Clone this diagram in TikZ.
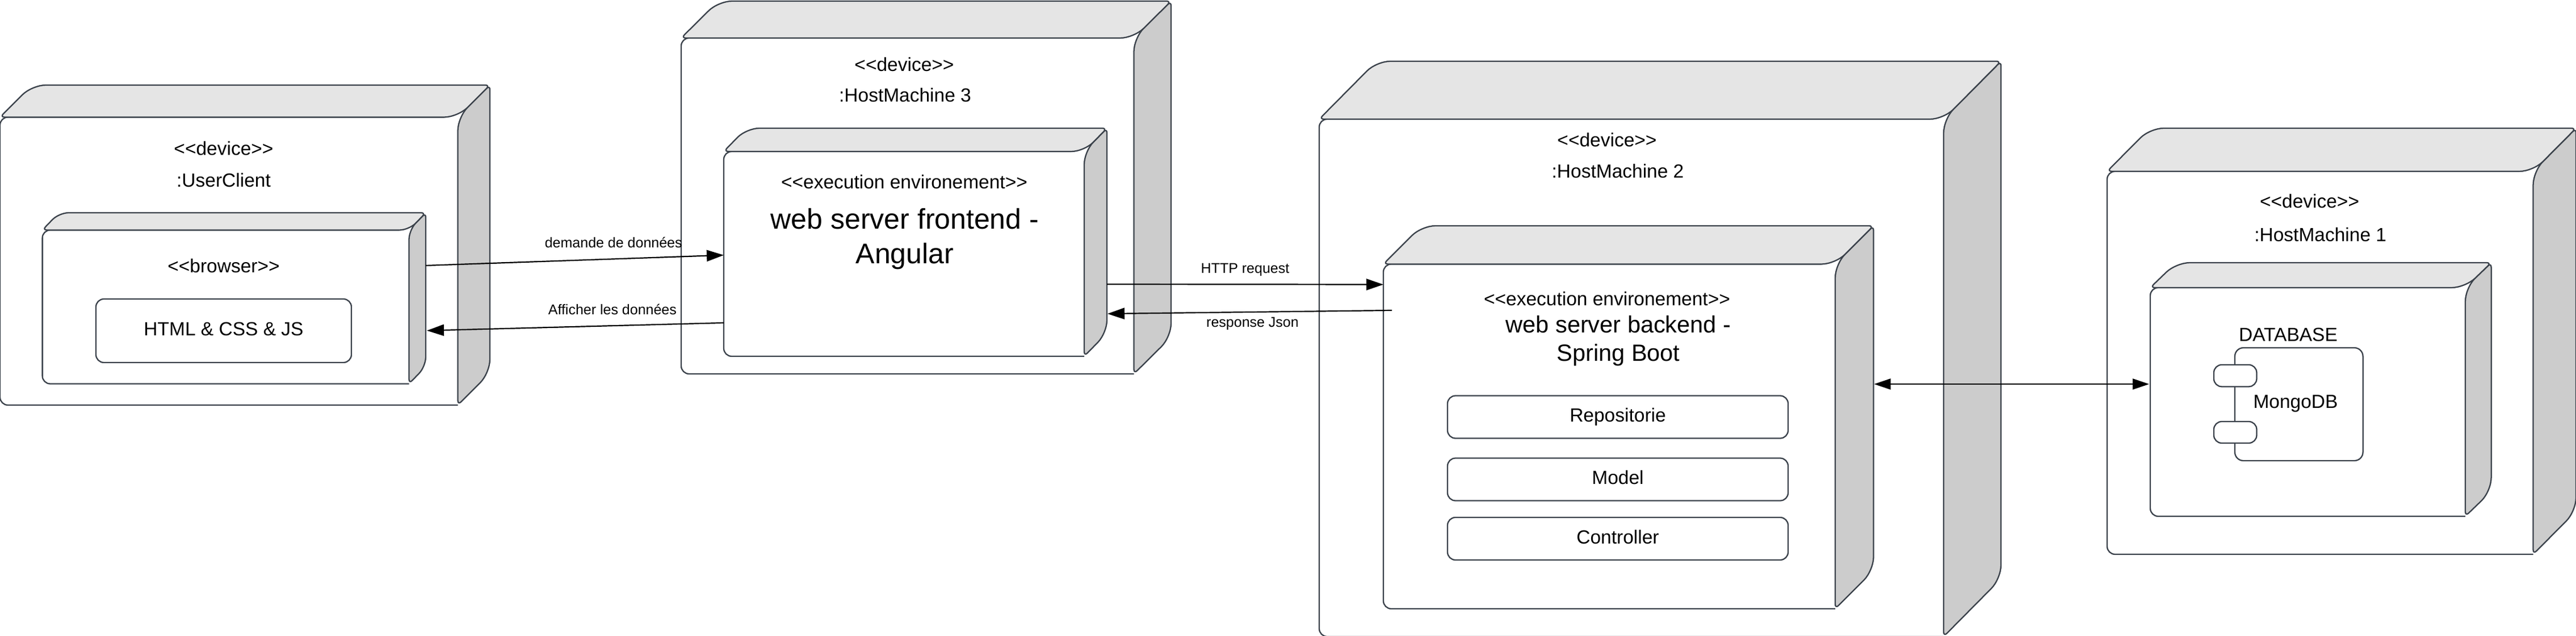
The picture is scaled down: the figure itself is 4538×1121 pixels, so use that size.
\documentclass[tikz,border=0pt]{standalone}
\usepackage{fontspec}
\setmainfont{Liberation Sans}[Ligatures=TeXOff]
\usetikzlibrary{arrows.meta}
\definecolor{edge}{HTML}{3A414A}
\definecolor{topface}{HTML}{E5E5E5}
\definecolor{sideface}{HTML}{CCCCCC}
\tikzset{
  outline/.style={draw=edge,line width=2.3pt,line join=round},
  frontface/.style={outline,fill=white},
  txt/.style={inner sep=0pt,outer sep=0pt,text=black,font=\fontsize{33.5}{40}\selectfont,text height=26pt,text depth=3pt},
  smalltxt/.style={inner sep=0pt,outer sep=0pt,text=black,font=\fontsize{25}{30}\selectfont,text height=18pt,text depth=5pt},
  bigtxt/.style={inner sep=0pt,outer sep=0pt,text=black,align=center,font=\fontsize{50}{61}\selectfont},
  midtxt/.style={inner sep=0pt,outer sep=0pt,text=black,align=center,font=\fontsize{41.5}{50}\selectfont},
  itembox/.style={outline,fill=white,rounded corners=14pt,inner sep=0pt,outer sep=0pt,font=\fontsize{33.5}{40}\selectfont,text height=24pt,text depth=7pt},
  anchorbox/.style={inner sep=0pt,outer sep=0pt,draw=none},
  link/.style={draw=black,line width=2.2pt,-{Triangle[length=30pt,width=20pt]}},
  linkboth/.style={draw=black,line width=2.2pt,{Triangle[length=29pt,width=19pt]}-{Triangle[length=29pt,width=19pt]}},
}
% name, x0, y0, x1, y1, xs (front right edge), yf (front top edge)
\newcommand{\nodebox}[7]{%
  \pgfmathsetmacro{\bdx}{#4-#6}%
  \pgfmathsetmacro{\bdy}{#7-#3}%
  \pgfmathsetmacro{\brc}{min(\bdy*0.55,24)}%
  \pgfmathsetmacro{\bxm}{(#2+#4)/2}%
  \pgfmathsetmacro{\bym}{(#3+#5)/2}%
  \pgfmathsetmacro{\bxt}{#2+\bdx}%
  \pgfmathsetmacro{\bys}{#5-\bdy}%
  \pgfmathsetmacro{\bxf}{#6-\brc}%
  \node[anchorbox,minimum width={(#4-#2)*1pt},minimum height={(#5-#3)*1pt}] (#1) at (\bxm,\bym) {};
  \filldraw[frontface,rounded corners=14pt] (\bxf,#7) -- (#2,#7) -- (#2,#5) -- (#6,#5);
  \filldraw[outline,fill=sideface] (#4,\bym) [rounded corners=\brc pt] -- (#4,\bys) [rounded corners=8pt] -- (#6,#5) [rounded corners=\brc pt] -- (#6,#7) [rounded corners=8pt] -- (#4,#3) -- cycle;
  \filldraw[outline,fill=topface] (\bxm,#3) [rounded corners=8pt] -- (#4,#3) [rounded corners=\brc pt] -- (#6,#7) [rounded corners=8pt] -- (#2,#7) [rounded corners=\brc pt] -- (\bxt,#3) -- cycle;
}
\begin{document}
\begin{tikzpicture}[x=1pt,y=-1pt]
\useasboundingbox (0,0) rectangle (4538,1121);
\fill[white] (0,0) rectangle (4538,1121);

% UserClient
\nodebox{client}{0}{150}{863}{714}{806.5}{206.5}
\node[txt] (clientkind) at (394,262) {<<device>>};
\node[txt] (clientname) at (394,317.5) {:UserClient};
\nodebox{browser}{74.6}{375}{750}{676.5}{720.5}{405.5}
\node[txt] (browserkind) at (394,469) {<<browser>>};
\node[itembox,minimum width=450pt,minimum height=112pt] (html) at (394,583) {HTML \& CSS \& JS};

% HostMachine 3
\nodebox{host3}{1200}{2}{2063}{659}{1997.5}{67}
\node[txt] (host3kind) at (1593,114) {<<device>>};
\node[txt] (host3name) at (1594.5,168) {:HostMachine 3};
\nodebox{frontend}{1275}{226}{1950}{628}{1910}{267}
\node[txt] (frontkind) at (1593,321) {<<execution environement>>};
\node[bigtxt] (fronttitle) at (1594,421.5) {web server frontend -\\Angular};

% HostMachine 2
\nodebox{host2}{2324}{108}{3525}{1122}{3424}{210}
\node[txt] (host2kind) at (2831,246.5) {<<device>>};
\node[txt] (host2name) at (2850,302) {:HostMachine 2};
\nodebox{backend}{2437}{398}{3300.5}{1073}{3233}{465.5}
\node[txt] (backkind) at (2831,527) {<<execution environement>>};
\node[midtxt] (backtitle) at (2851,601) {web server backend -\\Spring Boot};
\node[itembox,minimum width=600pt,minimum height=75pt] (repo) at (2850,735) {Repositorie};
\node[itembox,minimum width=600pt,minimum height=75pt] (model) at (2850,845) {Model};
\node[itembox,minimum width=600pt,minimum height=75pt] (ctrl) at (2850,949.5) {Controller};

% HostMachine 1
\nodebox{host1}{3712}{226}{4538}{977}{4462.5}{302}
\node[txt] (host1kind) at (4068.5,355) {<<device>>};
\node[txt] (host1name) at (4087.7,414) {:HostMachine 1};
\nodebox{dbenv}{3788}{463}{4388.6}{910}{4343}{507}
\node[txt] (dbtitle) at (4031,590) {DATABASE};
\node[outline,fill=white,rounded corners=15pt,anchorbox,draw=edge,minimum width=225.6pt,minimum height=199pt] (mongo) at (4049.8,712.5) {};
\node[itembox,rounded corners=14pt,minimum width=75.5pt,minimum height=38.5pt,text height=0pt,text depth=0pt] (portA) at (3937.7,662.2) {};
\node[itembox,rounded corners=14pt,minimum width=75.5pt,minimum height=38pt,text height=0pt,text depth=0pt] (portB) at (3937.7,762) {};
\node[txt] (mongotxt) at (4044,708) {MongoDB};

% Connectors
\draw[link] ([yshift=57.75pt]browser.east) -- node[pos=0.63,yshift=26pt,smalltxt] (lblA) {demande de données} ([yshift=-22.7pt]frontend.west);
\draw[link] ([yshift=-142pt]frontend.west) -- node[pos=0.375,yshift=26pt,smalltxt] (lblB) {Afficher les données} ([xshift=2pt,yshift=-56.95pt]browser.east);
\draw[link] ([yshift=-74pt]frontend.east) -- node[pos=0.5,yshift=26pt,smalltxt] (lblC) {HTTP request} ([yshift=234pt]backend.west);
\draw[link] ([xshift=15pt,yshift=188.5pt]backend.west) -- node[pos=0.49,yshift=-20pt,smalltxt] (lblD) {response Json} ([xshift=1pt,yshift=-126pt]frontend.east);
\draw[linkboth] ([xshift=1pt,yshift=58.5pt]backend.east) -- ([xshift=-2pt,yshift=9.5pt]dbenv.west);
\end{tikzpicture}
\end{document}
